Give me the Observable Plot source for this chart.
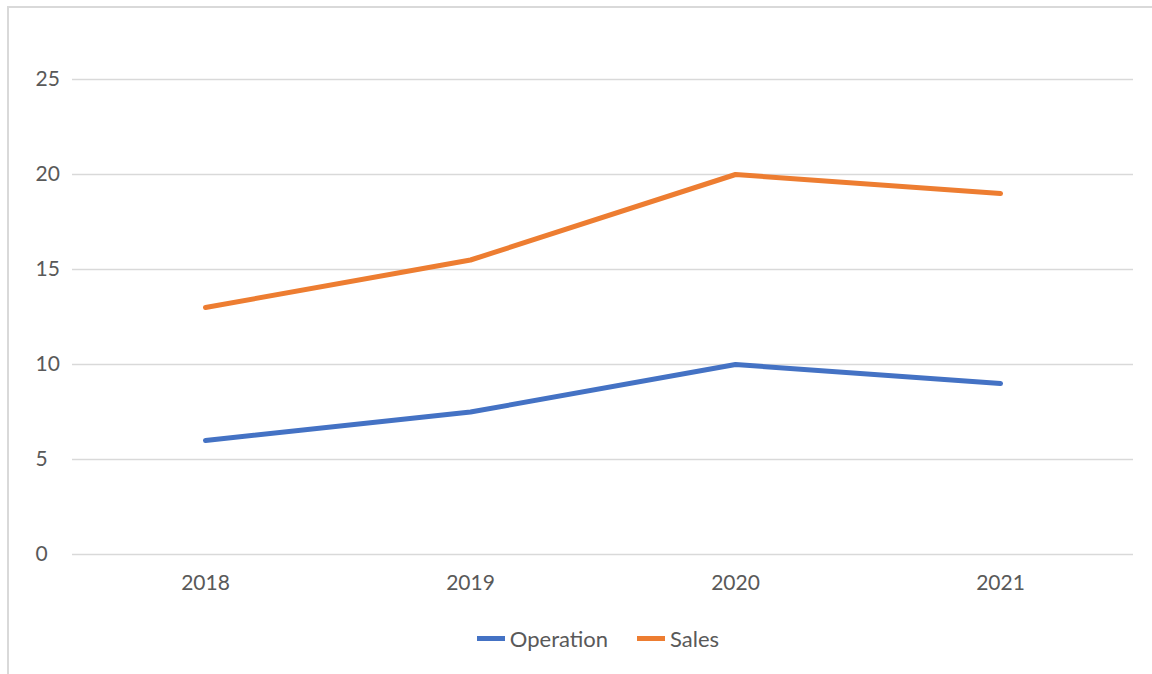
<!DOCTYPE html>
<html>
<head>
<meta charset="utf-8">
<script src="https://cdn.jsdelivr.net/npm/d3@7"></script>
<script src="https://cdn.jsdelivr.net/npm/@observablehq/plot@0.6"></script>
<style>
  html, body { margin: 0; padding: 0; background: #fff; }
  #wrap { position: relative; width: 1152px; height: 674px; overflow: hidden; font-family: Lato, "Open Sans", sans-serif; }
  #frame { position: absolute; left: 7px; top: 6px; width: 1160px; height: 700px; border: 2px solid #d9d9d9; box-sizing: border-box; }
  #chart { position: absolute; left: 0; top: 0; }
  #legend { position: absolute; top: 625px; left: 22px; width: 1152px; display: flex; justify-content: center; gap: 29px; color: #595959; font-size: 22px; }
  .item { display: flex; align-items: center; gap: 5px; }
  .sw { width: 28px; height: 5px; }
</style>
</head>
<body>
<div id="wrap">
  <div id="frame"></div>
  <div id="chart"></div>
  <div id="legend"></div>
</div>
<script>
const years = ["2018", "2019", "2020", "2021"];
const operation = [6, 7.5, 10, 9];
const sales = [13, 15.5, 20, 19];
const seriesNames = ["Operation", "Sales"];
const seriesColors = ["#4472C4", "#ED7D31"];
const yTicks = [0, 5, 10, 15, 20, 25];

const data = [];
years.forEach((y, i) => {
  data.push({year: y, value: operation[i], series: "Operation"});
  data.push({year: y, value: sales[i], series: "Sales"});
});

const plot = Plot.plot({
  width: 1152,
  height: 600,
  marginLeft: 72,
  marginRight: 19,
  marginTop: 79,
  marginBottom: 46,
  style: {fontFamily: "Lato, 'Open Sans', sans-serif", fontSize: "21px", color: "#595959", background: "transparent"},
  x: {type: "point", domain: years, padding: 0.5, axis: null},
  y: {domain: [0, 25], axis: null},
  color: {domain: seriesNames, range: seriesColors},
  marks: [
    Plot.ruleY(yTicks, {stroke: "#d9d9d9", strokeWidth: 1.5}),
    Plot.text(yTicks, {y: d => d, text: d => String(d), frameAnchor: "left", textAnchor: "start", dx: -37, fill: "#595959", fontSize: 21}),
    Plot.text(years, {x: d => d, text: d => d, frameAnchor: "bottom", dy: 35, fill: "#595959", fontSize: 21}),
    Plot.line(data, {x: "year", y: "value", z: "series", stroke: "series", strokeWidth: 5, strokeLinecap: "round", strokeLinejoin: "round"})
  ]
});
document.getElementById("chart").appendChild(plot);

const legend = document.getElementById("legend");
seriesNames.forEach((n, i) => {
  const item = document.createElement("div");
  item.className = "item";
  const sw = document.createElement("div");
  sw.className = "sw";
  sw.style.background = seriesColors[i];
  const t = document.createElement("span");
  t.textContent = n;
  item.appendChild(sw);
  item.appendChild(t);
  legend.appendChild(item);
});
</script>
</body>
</html>
